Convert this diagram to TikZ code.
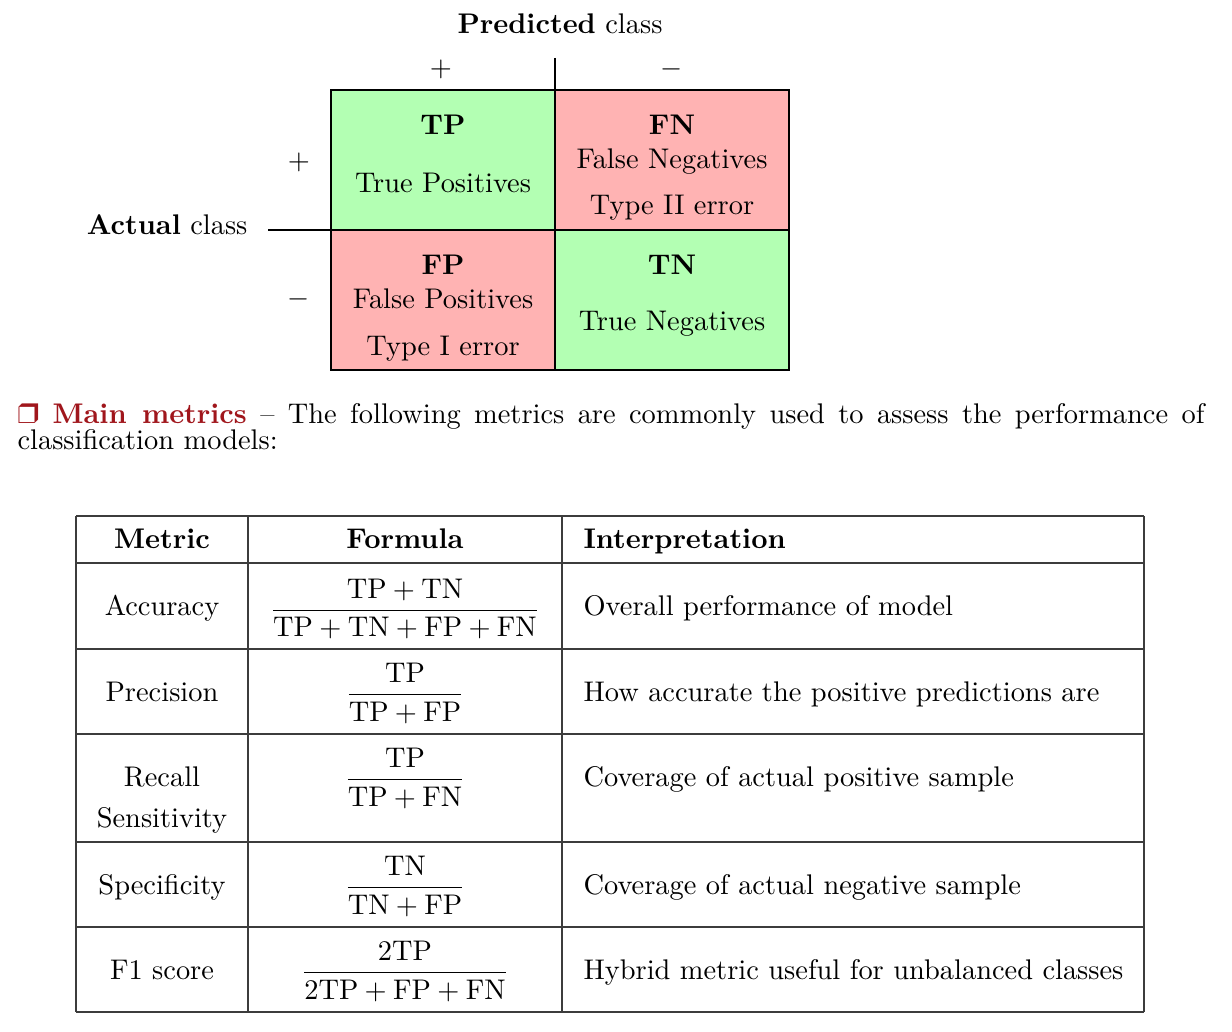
\documentclass[tikz,border=0pt]{standalone}
\usepackage{fontspec}
\usepackage{amsmath}
\usepackage{pifont}
\definecolor{mred}{RGB}{160,22,28}
\definecolor{cgreen}{RGB}{179,255,179}
\definecolor{cred}{RGB}{255,179,179}
\definecolor{tline}{RGB}{60,60,60}
\begin{document}
\begin{tikzpicture}[x=0.352pt,y=-0.352pt,
  every node/.style={inner sep=0pt,font=\fontsize{10}{12}\selectfont},
  lbl/.style={anchor=base},
  lbll/.style={anchor=base west},
  frac/.style={anchor=base},
  tl/.style={draw=tline,line width=0.6pt},
  cellline/.style={line width=0.5pt},
  axisline/.style={line width=0.8pt}]
\useasboundingbox (0,0) rectangle (1232,1032);

% ---------- confusion matrix ----------
\fill[cgreen] (331,90) rectangle (555,230);
\fill[cred] (555,90) rectangle (789,230);
\fill[cred] (331,230) rectangle (555,370);
\fill[cgreen] (555,230) rectangle (789,370);
\draw[cellline] (331,90) -- (789,90) -- (789,370) -- (331,370) -- cycle;
\draw[axisline] (555,58) -- (555,370);
\draw[cellline] (268,230) -- (789,230);

\node[lbl] (pred) at (560,34) {\textbf{Predicted} class};
\node[lbl] (pplus) at (441,77) {$+$};
\node[lbl] (pminus) at (672,77) {$-$};
\node[lbl] (aplus) at (299,170) {$+$};
\node[lbl] (aminus) at (299,307) {$-$};
\node[anchor=base east] (act) at (248,235) {\textbf{Actual} class};

\node[lbl] (tp) at (443,135) {\textbf{TP}};
\node[lbl] (tpt) at (443,193) {True Positives};
\node[lbl] (fn) at (672,135) {\textbf{FN}};
\node[lbl] (fnt) at (672,169) {False Negatives};
\node[lbl] (fne) at (672,215) {Type II error};
\node[lbl] (fp) at (443,275) {\textbf{FP}};
\node[lbl] (fpt) at (443,309) {False Positives};
\node[lbl] (fpe) at (443,355) {Type I error};
\node[lbl] (tn) at (672,275) {\textbf{TN}};
\node[lbl] (tnt) at (672,331) {True Negatives};

% ---------- paragraph ----------
\node[lbll] (para1) at (17,423) {\makebox[417.8pt][s]{\textcolor{mred}{\ding{114}\ \textbf{Main metrics}} -- The following metrics are commonly used to assess the performance of}};
\node[lbll] (para2) at (17,450) {classification models:};

% ---------- table ----------
\foreach \yy in {516,563,649,734,842,927,1012}
  \draw[tl] (76,\yy) -- (1144,\yy);
\foreach \xx in {76,248,562,1144}
  \draw[tl] (\xx,516) -- (\xx,1012);

\node[lbl] (hm) at (162,548.5) {\textbf{Metric}};
\node[lbl] (hf) at (405,548.5) {\textbf{Formula}};
\node[lbll] (hi) at (583,548.5) {\textbf{Interpretation}};

\node[lbl] (m1) at (162,615) {Accuracy};
\node[frac] (f1) at (405,617.5) {$\dfrac{\mathrm{TP}+\mathrm{TN}}{\mathrm{TP}+\mathrm{TN}+\mathrm{FP}+\mathrm{FN}}$};
\node[lbll] (i1) at (583,615) {Overall performance of model};

\node[lbl] (m2) at (162,701) {Precision};
\node[frac] (f2) at (405,702) {$\dfrac{\mathrm{TP}}{\mathrm{TP}+\mathrm{FP}}$};
\node[lbll] (i2) at (583,701) {How accurate the positive predictions are};

\node[lbl] (m3a) at (162,786) {Recall};
\node[lbl] (m3b) at (162,827) {Sensitivity};
\node[frac] (f3) at (405,787) {$\dfrac{\mathrm{TP}}{\mathrm{TP}+\mathrm{FN}}$};
\node[lbll] (i3) at (583,786) {Coverage of actual positive sample};

\node[lbl] (m4) at (162,894) {Specificity};
\node[frac] (f4) at (405,895) {$\dfrac{\mathrm{TN}}{\mathrm{TN}+\mathrm{FP}}$};
\node[lbll] (i4) at (583,894) {Coverage of actual negative sample};

\node[lbl] (m5) at (162,979) {F1 score};
\node[frac] (f5) at (405,980) {$\dfrac{2\mathrm{TP}}{2\mathrm{TP}+\mathrm{FP}+\mathrm{FN}}$};
\node[lbll] (i5) at (583,979) {Hybrid metric useful for unbalanced classes};
\end{tikzpicture}
\end{document}
